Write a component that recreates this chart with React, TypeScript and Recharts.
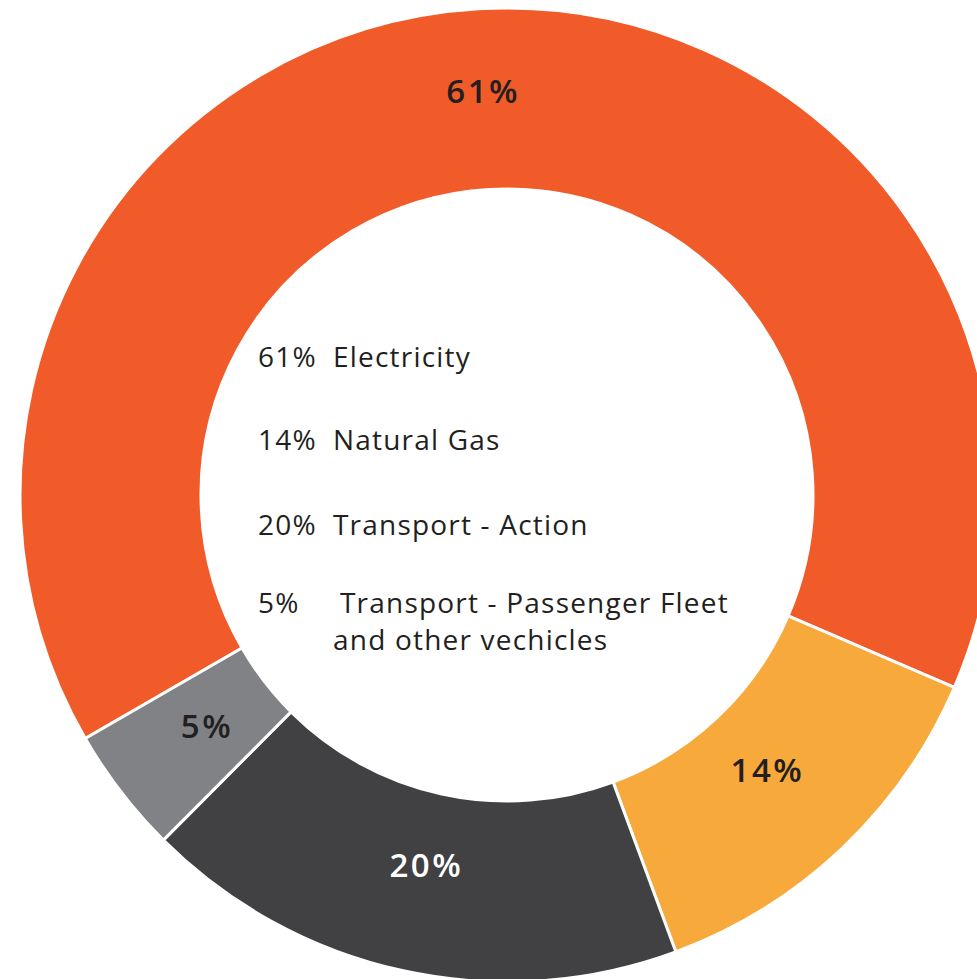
import { PieChart, Pie, Cell } from 'recharts';

// sectors, clockwise from the top
const categories = ['Electricity', 'Natural Gas', 'Transport - Action', 'Transport - Passenger Fleet and other vechicles'];
const sliceLabels = ['61%', '14%', '20%', '5%'];
// arc sizes as drawn in the picture (degrees / 3.6)
const arcShares = [64.8, 12.9, 18.1, 4.2];
const legendLines = [
  { pct: '61%', text: 'Electricity' },
  { pct: '14%', text: 'Natural Gas' },
  { pct: '20%', text: 'Transport - Action' },
  { pct: '5%', text: 'Transport - Passenger Fleet' },
];

const COLORS = ['#F15A29', '#F7A93B', '#414042', '#808285'];
const LABEL_COLORS = ['#231F20', '#231F20', '#FFFFFF', '#231F20'];

const data = categories.map((name, i) => ({ name, value: arcShares[i], label: sliceLabels[i] }));

const RAD = Math.PI / 180;
const FONT = '"Open Sans", "Noto Sans", sans-serif';

function renderLabel(props: any) {
  const { cx, cy, midAngle, innerRadius, outerRadius, index } = props;
  const r = innerRadius + (outerRadius - innerRadius) * (index === 0 ? 0.55 : 0.4);
  const x = cx + r * Math.cos(-midAngle * RAD);
  const y = cy + r * Math.sin(-midAngle * RAD);
  return (
    <text x={x} y={y} textAnchor="middle" dominantBaseline="central"
      fill={LABEL_COLORS[index]} fontSize={33} fontWeight={600} fontFamily={FONT} letterSpacing={2.5}>
      {data[index].label}
    </text>
  );
}

export default function App() {
  return (
    <div style={{ position: 'fixed', left: 0, top: 0, width: 977, height: 979, overflow: 'hidden', background: '#fff', fontFamily: FONT }}>
      <PieChart width={977} height={979} margin={{ top: 0, right: 0, bottom: 0, left: 0 }}>
        <Pie data={data} dataKey="value" nameKey="name" cx={507} cy={495}
          innerRadius={306} outerRadius={487} startAngle={210} endAngle={-150}
          stroke="#fff" strokeWidth={3} label={renderLabel} labelLine={false}
          isAnimationActive={false}>
          {data.map((d, i) => <Cell key={d.name} fill={COLORS[i]} />)}
        </Pie>
      </PieChart>

      {/* legend inside the hole */}
      <div style={{ position: 'absolute', left: 258, top: 337, fontSize: 28, color: '#231F20', lineHeight: '38px', letterSpacing: 1.2 }}>
        {legendLines.map((l, i) => (
          <div key={l.pct} style={{ display: 'flex', marginBottom: [45, 47, 40][i] ?? 0 }}>
            <span style={{ width: i === 3 ? 82 : 75, display: 'inline-block' }}>{l.pct}</span>
            <span>{l.text}</span>
          </div>
        ))}
        <div style={{ paddingLeft: 75, marginTop: -1 }}>and other vechicles</div>
      </div>
    </div>
  );
}
